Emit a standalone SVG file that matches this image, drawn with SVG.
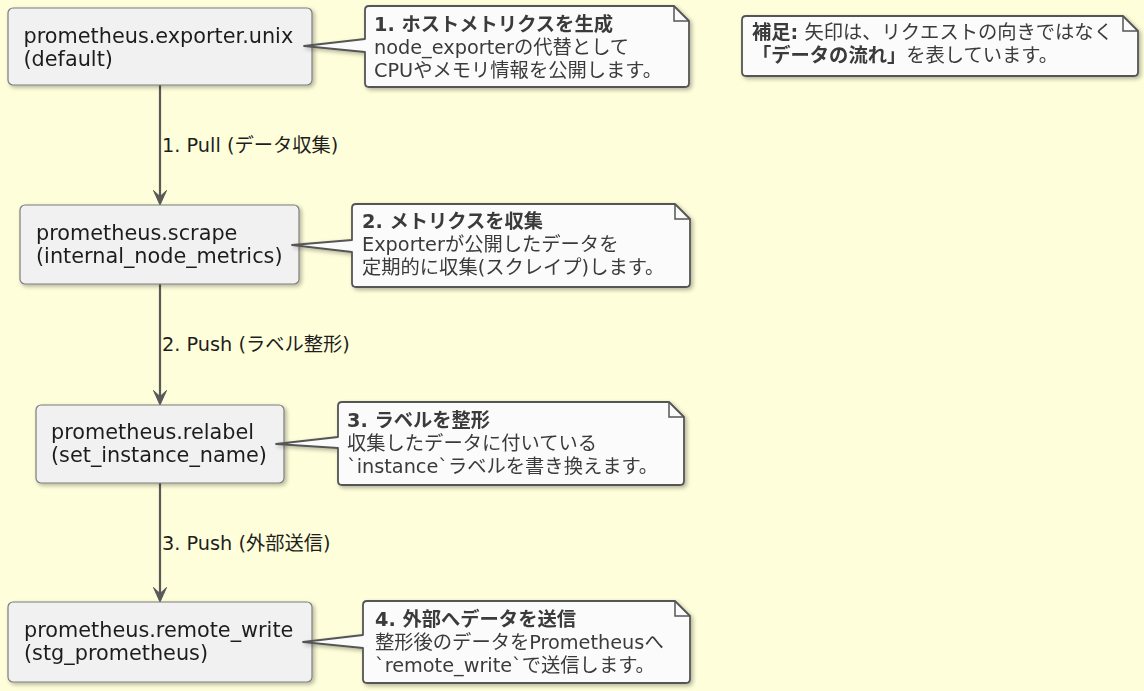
<svg xmlns="http://www.w3.org/2000/svg" width="1144" height="691" viewBox="0 0 1144 691">
<style>
  .bg { fill: #FEFEDA; }
  .node rect { fill: #F1F1F1; stroke: #7d7d7d; stroke-width: 1.2; }
  .node text { font-family: "DejaVu Sans", "Noto Sans CJK JP", sans-serif; font-size: 20.8px; fill: #1e1e1e; }
  .note path.body { fill: #FBFBFB; stroke: #555555; stroke-width: 1.8; stroke-linejoin: round; }
  .note path.fold { fill: none; stroke: #555555; stroke-width: 1.5; }
  .note text { font-family: "DejaVu Sans", "Noto Sans CJK JP", sans-serif; font-size: 19.3px; fill: #3a3a3a; }
  .note .b { font-weight: bold; }
  .edge line { stroke: #595959; stroke-width: 2.2; }
  .edge polygon { fill: #595959; stroke: #595959; stroke-width: 1; stroke-linejoin: round; }
  .edge text { font-family: "DejaVu Sans", "Noto Sans CJK JP", sans-serif; font-size: 19.3px; fill: #1e1e1e; }
</style>
<defs>
  <filter id="shadow" x="-10%" y="-10%" width="130%" height="140%">
    <feGaussianBlur in="SourceAlpha" stdDeviation="2"/>
    <feOffset dx="2" dy="2" result="b"/>
    <feComponentTransfer><feFuncA type="linear" slope="0.3"/></feComponentTransfer>
    <feMerge><feMergeNode/><feMergeNode in="SourceGraphic"/></feMerge>
  </filter>
</defs>
<rect class="bg" x="0" y="0" width="1144" height="691"/>

<g id="edges" class="edge">
  <line x1="160" y1="85" x2="160" y2="198"/>
  <polygon points="160,205 153.5,190.5 160,196.5 166.5,190.5"/>
  <text x="162" y="152">1. Pull (データ収集)</text>
  <line x1="160" y1="284" x2="160" y2="398"/>
  <polygon points="160,405 153.5,390.5 160,396.5 166.5,390.5"/>
  <text x="162" y="351">2. Push (ラベル整形)</text>
  <line x1="160" y1="483" x2="160" y2="595"/>
  <polygon points="160,602 153.5,587.5 160,593.5 166.5,587.5"/>
  <text x="162" y="550">3. Push (外部送信)</text>
</g>

<g id="node-exporter" class="node" filter="url(#shadow)">
  <rect x="8" y="8" width="304" height="77" rx="5"/>
  <text x="23.5" y="43">prometheus.exporter.unix</text>
  <text x="23.5" y="66">(default)</text>
</g>
<g id="node-scrape" class="node" filter="url(#shadow)">
  <rect x="20" y="205" width="279" height="79" rx="5"/>
  <text x="36" y="240">prometheus.scrape</text>
  <text x="36" y="263">(internal_node_metrics)</text>
</g>
<g id="node-relabel" class="node" filter="url(#shadow)">
  <rect x="36" y="405" width="248" height="78" rx="5"/>
  <text x="51" y="439">prometheus.relabel</text>
  <text x="51" y="462">(set_instance_name)</text>
</g>
<g id="node-remote-write" class="node" filter="url(#shadow)">
  <rect x="8" y="602" width="304" height="80" rx="5"/>
  <text x="24" y="637">prometheus.remote_write</text>
  <text x="24" y="660">(stg_prometheus)</text>
</g>

<g id="note-1" class="note" filter="url(#shadow)">
  <path class="body" d="M369,6 L674,6 L689,21 L689,83 Q689,87 685,87 L369,87 Q365,87 365,83 L365,52 L304,46 L365,39 L365,10 Q365,6 369,6 Z"/>
  <path class="fold" d="M674,6 L674,21 L689,21"/>
  <text x="374" y="31" class="b">1. ホストメトリクスを生成</text>
  <text x="374" y="54">node_exporterの代替として</text>
  <text x="374" y="77">CPUやメモリ情報を公開します。</text>
</g>
<g id="note-2" class="note" filter="url(#shadow)">
  <path class="body" d="M356,204 L675,204 L690,219 L690,283 Q690,287 686,287 L356,287 Q352,287 352,283 L352,252 L292,245 L352,240 L352,208 Q352,204 356,204 Z"/>
  <path class="fold" d="M675,204 L675,219 L690,219"/>
  <text x="362" y="228" class="b">2. メトリクスを収集</text>
  <text x="362" y="251">Exporterが公開したデータを</text>
  <text x="362" y="274">定期的に収集(スクレイプ)します。</text>
</g>
<g id="note-3" class="note" filter="url(#shadow)">
  <path class="body" d="M342,402 L669,402 L684,417 L684,481 Q684,485 680,485 L342,485 Q338,485 338,481 L338,448 L276,444 L338,437 L338,406 Q338,402 342,402 Z"/>
  <path class="fold" d="M669,402 L669,417 L684,417"/>
  <text x="347" y="426.5" class="b">3. ラベルを整形</text>
  <text x="347" y="449.5">収集したデータに付いている</text>
  <text x="347" y="472.5">`instance`ラベルを書き換えます。</text>
</g>
<g id="note-4" class="note" filter="url(#shadow)">
  <path class="body" d="M367,601 L675,601 L690,616 L690,679 Q690,683 686,683 L367,683 Q363,683 363,679 L363,648 L303,642 L363,635 L363,605 Q363,601 367,601 Z"/>
  <path class="fold" d="M675,601 L675,616 L690,616"/>
  <text x="375" y="625.5" class="b">4. 外部へデータを送信</text>
  <text x="375" y="648.5">整形後のデータをPrometheusへ</text>
  <text x="375" y="671.5">`remote_write`で送信します。</text>
</g>
<g id="note-5" class="note" filter="url(#shadow)">
  <path class="body" d="M746,16 L1123,16 L1138,31 L1138,72 Q1138,76 1134,76 L746,76 Q742,76 742,72 L742,20 Q742,16 746,16 Z"/>
  <path class="fold" d="M1123,16 L1123,31 L1138,31"/>
  <text x="752" y="39"><tspan class="b">補足:</tspan> 矢印は、リクエストの向きではなく</text>
  <text x="752" y="62"><tspan class="b">「データの流れ」</tspan>を表しています。</text>
</g>
</svg>
